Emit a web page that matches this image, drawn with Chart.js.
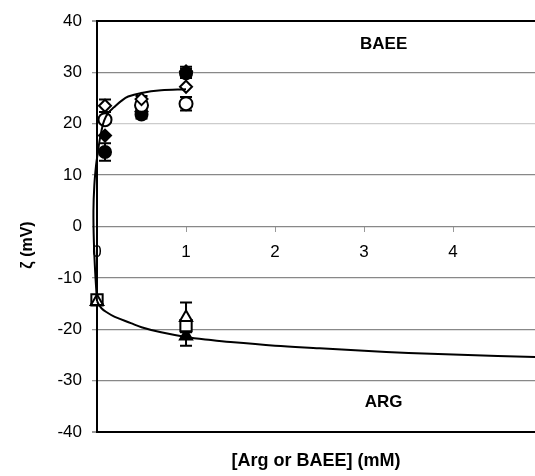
<!DOCTYPE html>
<html>
<head>
<meta charset="utf-8">
<script src="https://cdn.jsdelivr.net/npm/chart.js@4.4.1/dist/chart.umd.min.js"></script>
<style>
  html, body { margin: 0; padding: 0; background: #fff; }
  #wrap { width: 535px; height: 476px; }
</style>
</head>
<body>
<div id="wrap"><canvas id="chart"></canvas></div>
<script>
// ── Data ──────────────────────────────────────────────────────────
const X_MAX = 4.92;
const xTicks = [0, 1, 2, 3, 4];

// fitted curves
const baeeCurveX = [0, -0.02, -0.035, -0.04, -0.03, -0.01, 0.01, 0.03, 0.05, 0.08, 0.13, 0.19, 0.27, 0.35, 0.5, 0.72, 1.0];
const baeeCurveY = [-14.5, -9, -3, 3, 8, 12, 14.5, 16.8, 18.6, 20.6, 22.2, 23.2, 24.4, 25.3, 26.0, 26.5, 26.7];
const argCurveX = [0, 0.02, 0.05, 0.1, 0.2, 0.38, 0.5, 0.72, 1.0, 1.28, 1.5, 2.0, 2.5, 3.0, 3.5, 4.0, 4.5, 4.92];
const argCurveY = [-14.5, -15.2, -15.9, -16.6, -17.6, -18.8, -19.6, -20.6, -21.5, -22.1, -22.5, -23.2, -23.7, -24.2, -24.6, -24.9, -25.2, -25.4];

// BAEE points
const baeeX = [0.09, 0.5, 1.0];
const baeeOpenDiamond = [23.5, 24.8, 27.2];
const baeeOpenDiamondErr = [1.2, 0.6, 0];
const baeeOpenCircle = [20.8, 23.6, 23.9];
const baeeOpenCircleErr = [0, 0.8, 1.3];
const baeeFilledDiamond = [17.7, 22.4, 30.2];
const baeeFilledDiamondErr = [0, 0, 0.9];
const baeeFilledCircle = [14.5, 21.8, 29.8];
const baeeFilledCircleErr = [1.7, 0.8, 0.9];

// ARG points
const argX = [0.0, 1.0];
const argOpenTriangle = [-14.6, -17.7];
const argOpenTriangleErr = [0, 2.9];
const argOpenSquare = [-14.3, -19.3];
const argFilledTriangle = [-14.6, -21.3];
const argFilledTriangleErr = [0, 1.9];

const FONT = "'Liberation Sans', Arial, sans-serif";

const pts = (xs, ys) => xs.map((x, i) => ({ x, y: ys[i] }));

function marker(label, xs, ys, err, style, filled, radius) {
  return {
    label, data: pts(xs, ys), err,
    showLine: false, clip: false,
    pointStyle: style, pointRadius: radius,
    pointBackgroundColor: filled ? "#000" : "#fff",
    pointBorderColor: "#000", pointBorderWidth: 2
  };
}

function curve(label, xs, ys) {
  return {
    label, data: pts(xs, ys), showLine: true, clip: false,
    borderColor: "#000", borderWidth: 2, pointRadius: 0, tension: 0.35
  };
}

const noPad = s => { s.paddingLeft = 0; s.paddingRight = 0; };

// ── Plugins: error bars, annotations, y title ────────────────────
const errorBars = {
  id: "errorBars",
  beforeDatasetsDraw(chart) {
    const { ctx, scales: { x, y } } = chart;
    ctx.save();
    ctx.strokeStyle = "#000";
    ctx.lineWidth = 2;
    chart.data.datasets.forEach(ds => {
      if (!ds.err) return;
      ds.data.forEach((p, i) => {
        const e = ds.err[i];
        if (!e) return;
        const px = x.getPixelForValue(p.x);
        const y1 = y.getPixelForValue(p.y + e), y2 = y.getPixelForValue(p.y - e);
        ctx.beginPath();
        ctx.moveTo(px, y1); ctx.lineTo(px, y2);
        ctx.moveTo(px - 6, y1); ctx.lineTo(px + 6, y1);
        ctx.moveTo(px - 6, y2); ctx.lineTo(px + 6, y2);
        ctx.stroke();
      });
    });
    ctx.restore();
  }
};

const labels = {
  id: "labels",
  afterDraw(chart) {
    const { ctx, scales: { x, y } } = chart;
    ctx.save();
    ctx.fillStyle = "#000";
    ctx.font = "bold 17px " + FONT;
    ctx.textAlign = "center";
    ctx.textBaseline = "middle";
    ctx.fillText("BAEE", x.getPixelForValue(3.22), y.getPixelForValue(35.5));
    ctx.fillText("ARG", x.getPixelForValue(3.22), y.getPixelForValue(-34.3));
    ctx.font = "bold 16px " + FONT;
    ctx.translate(28, 245);
    ctx.rotate(-Math.PI / 2);
    ctx.fillText("ζ (mV)", 0, 0);
    ctx.restore();
  }
};

new Chart(document.getElementById("chart"), {
  type: "scatter",
  data: {
    datasets: [
      curve("BAEE fit", baeeCurveX, baeeCurveY),
      curve("ARG fit", argCurveX, argCurveY),
      marker("BAEE a", baeeX, baeeOpenDiamond, baeeOpenDiamondErr, "rectRot", false, 6),
      marker("BAEE b", baeeX, baeeOpenCircle, baeeOpenCircleErr, "circle", false, 6.5),
      marker("BAEE c", baeeX, baeeFilledDiamond, baeeFilledDiamondErr, "rectRot", true, 6),
      marker("BAEE d", baeeX, baeeFilledCircle, baeeFilledCircleErr, "circle", true, 6),
      marker("ARG a", argX, argOpenTriangle, argOpenTriangleErr, "triangle", false, 7),
      marker("ARG b", argX, argOpenSquare, null, "rect", false, 8),
      marker("ARG c", argX, argFilledTriangle, argFilledTriangleErr, "triangle", true, 7)
    ]
  },
  options: {
    responsive: true, maintainAspectRatio: false, animation: false,
    layout: { autoPadding: false, padding: { top: 21, right: 0, left: 0, bottom: 0 } },
    plugins: { legend: { display: false }, tooltip: { enabled: false } },
    scales: {
      x: {
        type: "linear", position: "bottom", min: 0, max: X_MAX,
        afterFit: s => { s.height = 44; noPad(s); },
        ticks: { display: false },
        grid: { display: false },
        border: { display: false },
        title: { display: true, text: "[Arg or BAEE] (mM)", color: "#000", font: { family: FONT, size: 18, weight: "bold" } }
      },
      x0: {
        type: "linear", position: { y: 0 }, min: 0, max: X_MAX,
        afterBuildTicks: s => { s.ticks = xTicks.map(v => ({ value: v })); },
        afterFit: noPad,
        ticks: { padding: 11, color: "#000", font: { family: FONT, size: 17 } },
        grid: { drawOnChartArea: false, drawTicks: true, tickLength: 5, color: "#999" },
        border: { display: false }
      },
      y: {
        min: -40, max: 40,
        afterFit: s => { s.width = 97; },
        ticks: { stepSize: 10, padding: 10, color: "#000", font: { family: FONT, size: 17 } },
        grid: {
          tickLength: 5, tickColor: "#999",
          color: c => (c.tick.value === 40 || c.tick.value === -40) ? "#000" : (c.tick.value === 20 ? "#ccc" : "#888"),
          lineWidth: c => (c.tick.value === 40 || c.tick.value === -40) ? 2 : 1.3
        },
        border: { color: "#000", width: 2 }
      }
    }
  },
  plugins: [errorBars, labels]
});
</script>
</body>
</html>
